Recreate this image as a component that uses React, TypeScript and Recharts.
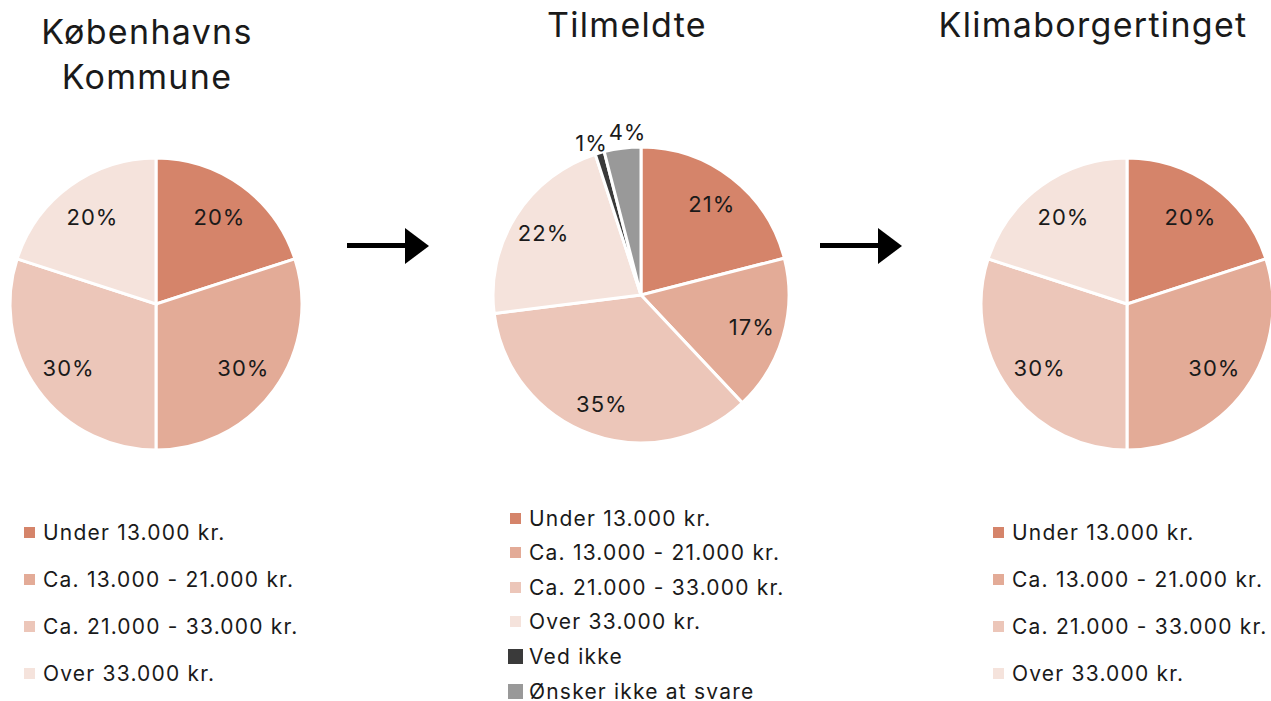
import React from "react";
import { Cell, Pie, PieChart } from "recharts";

const incomeCategories = [
  "Under 13.000 kr.",
  "Ca. 13.000 - 21.000 kr.",
  "Ca. 21.000 - 33.000 kr.",
  "Over 33.000 kr.",
];
const extraCategories = ["Ved ikke", "Ønsker ikke at svare"];

const kommuneValues = [20, 30, 30, 20];
const tilmeldteValues = [21, 17, 35, 22, 1, 4];
const klimaValues = [20, 30, 30, 20];

const colors = ["#D5846A", "#E3AB97", "#ECC6B9", "#F5E3DC", "#3A3A3A", "#999999"];

const FONT = "Inter, 'Noto Sans', sans-serif";
const RAD = Math.PI / 180;

const toData = (values: number[], names: string[]) =>
  values.map((v, i) => ({ name: names[i], value: v }));

const allCategories = [...incomeCategories, ...extraCategories];

// labels inside the slice, tiny slices get pushed outside and spread apart
const makeLabel = (factor: number) => (p: any) => {
  const small = p.value < 5;
  const r = small ? p.outerRadius + 15 : p.outerRadius * factor;
  let x = p.cx + r * Math.cos(-p.midAngle * RAD);
  let y = p.cy + r * Math.sin(-p.midAngle * RAD);
  if (small) {
    x += p.value <= 1 ? -4 : 7;
    y += p.value <= 1 ? 5 : -1;
  }
  return (
    <text
      x={x}
      y={y}
      textAnchor="middle"
      dominantBaseline="central"
      fontSize={22}
      letterSpacing={1}
      fontFamily={FONT}
      fill="#1a1a1a"
    >
      {`${p.value}%`}
    </text>
  );
};

function Legend({ items, left, top, gap }: { items: string[]; left: number; top: number; gap: number }) {
  return (
    <div style={{ position: "absolute", left, top }}>
      {items.map((label, i) => {
        const size = i < 4 ? 11 : 15;
        return (
          <div
            key={label}
            style={{ position: "absolute", top: i * gap, left: 0, height: 24, display: "flex", alignItems: "center", whiteSpace: "nowrap" }}
          >
            <span
              style={{ display: "inline-block", width: size, height: size, background: colors[i], marginLeft: i < 4 ? 0 : -2, marginRight: i < 4 ? 8 : 6 }}
            />
            <span style={{ fontSize: 21, letterSpacing: 1.2, fontFamily: FONT, color: "#1a1a1a" }}>{label}</span>
          </div>
        );
      })}
    </div>
  );
}

function Arrow({ left, top }: { left: number; top: number }) {
  return (
    <svg style={{ position: "absolute", left, top }} width={84} height={40}>
      <rect x={0} y={17} width={62} height={5} fill="#000" />
      <polygon points="58,2 82,20 58,38" fill="#000" />
    </svg>
  );
}

const titleStyle: React.CSSProperties = {
  position: "absolute",
  fontSize: 34,
  letterSpacing: 1.3,
  fontFamily: FONT,
  color: "#1a1a1a",
  textAlign: "center",
  lineHeight: "45px",
  transform: "translateX(-50%)",
  whiteSpace: "nowrap",
};

export default function App() {
  return (
    <div style={{ position: "absolute", left: 0, top: 0, width: 1271, height: 701, background: "#fff" }}>
      <PieChart width={1271} height={701} margin={{ top: 0, right: 0, bottom: 0, left: 0 }}>
        <Pie
          data={toData(kommuneValues, incomeCategories)}
          dataKey="value"
          cx={156}
          cy={304}
          outerRadius={146}
          startAngle={90}
          endAngle={-270}
          stroke="#fff"
          strokeWidth={3}
          label={makeLabel(0.74)}
          labelLine={false}
          isAnimationActive={false}
        >
          {kommuneValues.map((_, i) => (
            <Cell key={i} fill={colors[i]} />
          ))}
        </Pie>
        <Pie
          data={toData(tilmeldteValues, allCategories)}
          dataKey="value"
          cx={641}
          cy={295}
          outerRadius={148}
          startAngle={90}
          endAngle={-270}
          stroke="#fff"
          strokeWidth={3}
          label={makeLabel(0.78)}
          labelLine={false}
          isAnimationActive={false}
        >
          {tilmeldteValues.map((_, i) => (
            <Cell key={i} fill={colors[i]} />
          ))}
        </Pie>
        <Pie
          data={toData(klimaValues, incomeCategories)}
          dataKey="value"
          cx={1127}
          cy={304}
          outerRadius={146}
          startAngle={90}
          endAngle={-270}
          stroke="#fff"
          strokeWidth={3}
          label={makeLabel(0.74)}
          labelLine={false}
          isAnimationActive={false}
        >
          {klimaValues.map((_, i) => (
            <Cell key={i} fill={colors[i]} />
          ))}
        </Pie>
      </PieChart>

      <div style={{ ...titleStyle, left: 147, top: 9 }}>
        Københavns
        <br />
        Kommune
      </div>
      <div style={{ ...titleStyle, left: 627, top: 2 }}>Tilmeldte</div>
      <div style={{ ...titleStyle, left: 1093, top: 2 }}>Klimaborgertinget</div>

      <Arrow left={347} top={226} />
      <Arrow left={820} top={226} />

      <Legend items={incomeCategories} left={24} top={520} gap={47} />
      <Legend items={allCategories} left={510} top={506} gap={34.6} />
      <Legend items={incomeCategories} left={993} top={520} gap={47} />
    </div>
  );
}
